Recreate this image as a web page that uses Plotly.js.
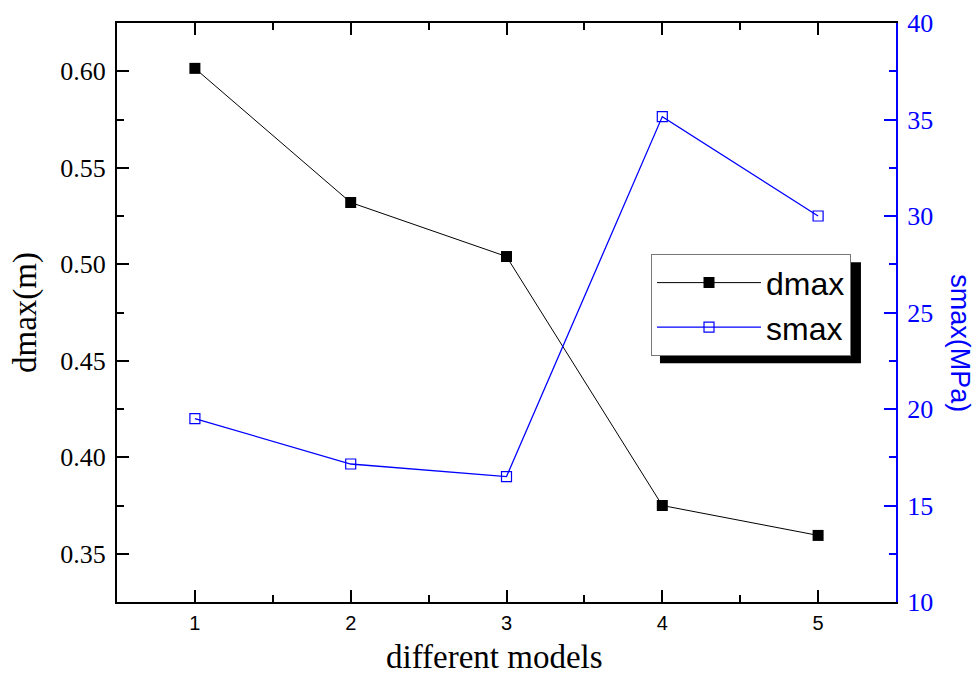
<!DOCTYPE html>
<html>
<head>
<meta charset="utf-8">
<script src="https://cdn.plot.ly/plotly-3.0.1.min.js"></script>
<style>html,body{margin:0;padding:0;background:#fff;}#chart{width:976px;height:677px;}</style>
</head>
<body>
<div id="chart"></div>
<script>
const models = [1, 2, 3, 4, 5];
const dmax = [0.6015, 0.532, 0.504, 0.375, 0.3595];
const smax = [19.5, 17.15, 16.5, 35.15, 30.0];
const xTickVals = [1, 2, 3, 4, 5];
const yLeftTicks = [0.35, 0.40, 0.45, 0.50, 0.55, 0.60];
const yRightTicks = [10, 15, 20, 25, 30, 35, 40];

const serif = 'Liberation Serif, Times New Roman, serif';
const sans = 'Liberation Sans, Arial, sans-serif';

const traces = [
  {x: models, y: dmax, name: 'dmax', type: 'scatter', mode: 'lines+markers',
   line: {color: '#000', width: 1},
   marker: {symbol: 'square', size: 11, color: '#000'}},
  {x: models, y: smax, name: 'smax', type: 'scatter', mode: 'lines+markers', yaxis: 'y2',
   line: {color: '#0000ff', width: 1.3},
   marker: {symbol: 'square-open', size: 10, color: '#0000ff', line: {width: 1.2}}}
];

const layout = {
  width: 976, height: 677,
  margin: {l: 117, r: 80, t: 23, b: 75},
  paper_bgcolor: '#fff', plot_bgcolor: '#fff',
  showlegend: true,
  legend: {x: 0.6855, y: 0.6005, xanchor: 'left', yanchor: 'top',
    bgcolor: '#fff', bordercolor: '#777', borderwidth: 1,
    font: {family: sans, size: 32, color: '#000'},
    itemwidth: 104, tracegroupgap: 0},
  xaxis: {range: [0.5, 5.5], tickvals: xTickVals, ticktext: xTickVals.map(String),
    showgrid: false, zeroline: false, showline: true, linecolor: '#000', linewidth: 2,
    mirror: 'ticks', ticks: 'inside', ticklen: 12, tickwidth: 2, tickcolor: '#000',
    minor: {dtick: 0.5, tick0: 0.5, ticks: 'inside', ticklen: 7, tickwidth: 2, tickcolor: '#000'},
    tickfont: {family: sans, size: 20, color: '#000'},
    ticklabelstandoff: 2},
  yaxis: {range: [0.325, 0.625], tickvals: yLeftTicks, ticktext: yLeftTicks.map(v => v.toFixed(2)),
    showgrid: false, zeroline: false, showline: true, linecolor: '#000', linewidth: 2,
    ticks: 'inside', ticklen: 12, tickwidth: 2, tickcolor: '#000',
    minor: {dtick: 0.05, tick0: 0.325, ticks: 'inside', ticklen: 7, tickwidth: 2, tickcolor: '#000'},
    tickfont: {family: serif, size: 26, color: '#000'},
    ticklabelstandoff: 4,
    title: {text: 'dmax(m)', font: {family: serif, size: 33, color: '#000'}, standoff: 14}},
  yaxis2: {range: [10, 40], overlaying: 'y', side: 'right', tickvals: yRightTicks, ticktext: yRightTicks.map(String),
    showgrid: false, zeroline: false, showline: true, linecolor: '#0000ff', linewidth: 2,
    ticks: 'inside', ticklen: 12, tickwidth: 2, tickcolor: '#0000ff',
    minor: {dtick: 5, tick0: 12.5, ticks: 'inside', ticklen: 7, tickwidth: 2, tickcolor: '#0000ff'},
    tickfont: {family: serif, size: 26, color: '#0000ff'},
    ticklabelstandoff: 4},
  shapes: [
    {type: 'rect', xref: 'paper', yref: 'paper', x0: 0.697, x1: 0.955, y0: 0.4123, y1: 0.5867,
     fillcolor: '#000', line: {width: 0}, layer: 'above'}
  ],
  annotations: [
    {text: 'different models', xref: 'paper', yref: 'paper', x: 0.4852, y: -0.1275, xanchor: 'center', yanchor: 'bottom',
     showarrow: false, borderpad: 0, font: {family: serif, size: 33, color: '#000'}},
    {text: 'smax(MPa)', xref: 'paper', yref: 'paper', x: 1.082, y: 0.447, xanchor: 'center', yanchor: 'middle',
     textangle: 90, showarrow: false,
     font: {family: sans, size: 27, color: '#0000ff'}}
  ]
};

Plotly.newPlot('chart', traces, layout, {displayModeBar: false, staticPlot: true});
</script>
</body>
</html>
